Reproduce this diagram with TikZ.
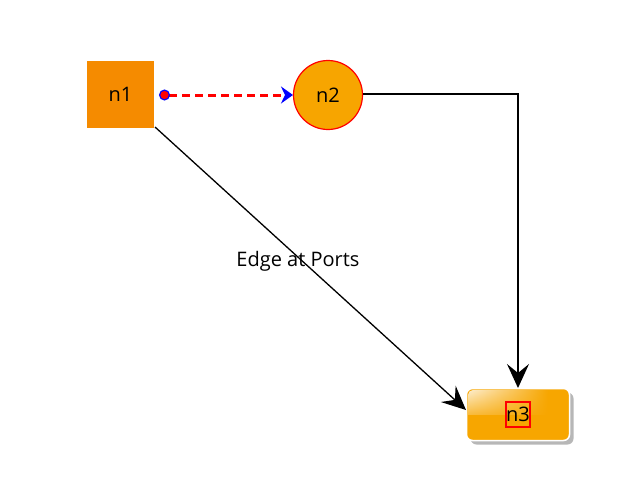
\documentclass[tikz,border=0pt]{standalone}
\usepackage{fontspec}
\setmainfont{Open Sans}
\usetikzlibrary{arrows.meta,shadows,fadings}
\definecolor{nOne}{RGB}{245,139,0}
\definecolor{nTwo}{RGB}{247,165,0}
\definecolor{nThree}{RGB}{247,166,0}
\tikzset{
  lbl/.style={font=\fontsize{20}{23}\selectfont, text=black},
  sqnode/.style={draw=none, fill=nOne, minimum width=67pt, minimum height=67pt, inner sep=0pt, lbl},
  circnode/.style={circle, draw=red, line width=1.2pt, fill=nTwo, minimum size=69pt, inner sep=0pt, lbl},
  boxnode/.style={rounded corners=6pt, draw=white, line width=1.5pt, fill=nThree, minimum width=103pt, minimum height=52pt, inner sep=0pt,
     drop shadow={shadow xshift=4pt, shadow yshift=-4pt, fill=black!40, opacity=0.7}},
  conn/.style={draw=black, line width=1.3pt, -{Stealth[length=24pt,width=22pt,inset=9pt]}},
  dashconn/.style={draw=red, line width=3pt, dash pattern=on 8pt off 5pt,
     {Circle[length=11pt,width=11pt,fill=red,color=blue,line width=1.2pt]}-{Stealth[length=12pt,width=17pt,inset=4pt,color=blue,fill=blue]}},
}
\begin{document}
\begin{tikzpicture}[x=1pt,y=-1pt]
\useasboundingbox (0,0) rectangle (640,480);
\node[sqnode] (n1) at (120.5,94.5) {n1};
\node[circnode] (n2) at (328,95) {n2};
\node[boxnode] (n3) at (518,414.5) {};
\begin{scope}
\clip[rounded corners=5pt] (468,390) rectangle (568,439);
\shade[top color=white!80!nThree, bottom color=white!25!nThree, path fading=east] (468,390) rectangle (548,414);
\end{scope}
\node[lbl, draw=red, line width=1.3pt, inner sep=0pt, minimum width=24pt, minimum height=25pt] (n3t) at (518,414.5) {n3};
\coordinate (p1) at (159,95);
\coordinate (p2) at (293,95);
\draw[dashconn] (p1) -- (p2);
\coordinate (c1) at (363,94);
\coordinate (c2) at (518,94);
\coordinate (c3) at (518,388);
\draw[conn] (c1) -- (c2) -- (c3);
\coordinate (d1) at (155,127);
\coordinate (d2) at (466,410);
\draw[conn] (d1) -- (d2);
\node[lbl] (el) at (298,261) {Edge at Ports};
\end{tikzpicture}
\end{document}
